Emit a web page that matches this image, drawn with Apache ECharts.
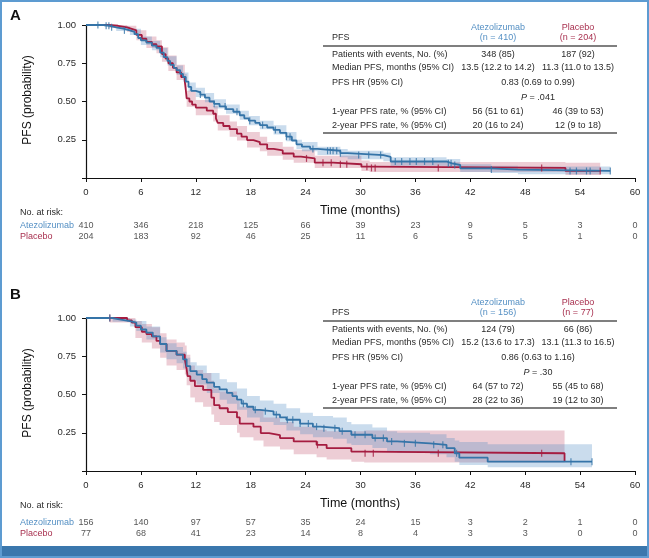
<!DOCTYPE html>
<html>
<head>
<meta charset="utf-8">
<script src="https://cdn.jsdelivr.net/npm/echarts@6/dist/echarts.min.js"></script>
<style>html,body{margin:0;padding:0;background:#fff}#c{width:649px;height:558px}</style>
</head>
<body>
<div id="c"></div>
<script>
// ---------- DATA ----------
const riskTimes = [0, 6, 12, 18, 24, 30, 36, 42, 48, 54, 60];
const riskA_atez = [410, 346, 218, 125, 66, 39, 23, 9, 5, 3, 0];
const riskA_plac = [204, 183, 92, 46, 25, 11, 6, 5, 5, 1, 0];
const riskB_atez = [156, 140, 97, 57, 35, 24, 15, 3, 2, 1, 0];
const riskB_plac = [77, 68, 41, 23, 14, 8, 4, 3, 3, 0, 0];
const yTicks = [0.25, 0.5, 0.75, 1.0];

// KM curves: [time (months), survival]
const kmA_atez = [[0,1],[1.9,0.995],[2.6,0.985],[3.3,0.975],[4.2,0.965],[4.8,0.955],[5.3,0.94],[5.7,0.915],[6.0,0.9],[6.6,0.885],[7.2,0.865],[7.7,0.85],[8.1,0.82],[8.5,0.79],[8.9,0.765],[9.2,0.74],[9.6,0.72],[9.9,0.705],[10.3,0.68],[10.6,0.66],[10.9,0.63],[11.2,0.595],[11.5,0.57],[12.0,0.56],[12.5,0.545],[13.0,0.525],[13.5,0.5],[14.0,0.485],[14.6,0.468],[15.3,0.45],[16.1,0.433],[16.8,0.41],[17.3,0.39],[17.8,0.375],[18.5,0.36],[19.0,0.346],[19.8,0.33],[20.5,0.314],[21.2,0.295],[21.9,0.27],[22.5,0.245],[23.0,0.22],[23.6,0.205],[24.5,0.19],[25.3,0.178],[27.8,0.162],[28.6,0.15],[32.5,0.138],[33.3,0.108],[39.4,0.096],[40.0,0.085],[40.9,0.063],[44.3,0.055],[47.2,0.046],[57.3,0.046]];
const kmA_plac = [[0,1],[2.5,0.995],[3.5,0.985],[4.5,0.975],[5.0,0.965],[5.5,0.935],[6.1,0.91],[6.6,0.89],[7.2,0.875],[7.7,0.86],[8.3,0.81],[8.7,0.78],[9.0,0.75],[9.5,0.72],[9.9,0.69],[10.4,0.66],[10.8,0.63],[10.9,0.58],[11.0,0.52],[11.3,0.5],[11.6,0.48],[12.0,0.46],[13.2,0.44],[13.9,0.42],[14.2,0.39],[14.4,0.36],[15.0,0.34],[15.7,0.32],[16.5,0.29],[17.0,0.27],[17.6,0.248],[18.3,0.235],[19.0,0.22],[19.8,0.19],[20.5,0.18],[21.5,0.16],[22.7,0.14],[23.5,0.128],[25.0,0.1],[27.0,0.09],[30.1,0.074],[31.0,0.066],[52.4,0.046],[56.2,0.046]];
const kmB_atez = [[0,1],[2.9,0.99],[3.8,0.98],[4.8,0.97],[5.5,0.95],[6.0,0.925],[6.6,0.905],[7.3,0.88],[8.1,0.83],[8.8,0.785],[9.9,0.76],[10.6,0.73],[11.0,0.686],[11.4,0.653],[12.1,0.63],[12.7,0.6],[13.2,0.577],[14.0,0.55],[14.6,0.533],[15.4,0.51],[16.0,0.49],[16.5,0.467],[17.0,0.44],[17.6,0.42],[18.3,0.4],[19.0,0.39],[20.5,0.368],[21.2,0.35],[21.9,0.335],[23.4,0.31],[24.8,0.29],[25.6,0.28],[27.7,0.26],[29.0,0.237],[31.3,0.215],[32.9,0.193],[34.0,0.181],[37.6,0.171],[39.4,0.149],[40.3,0.116],[40.8,0.087],[43.9,0.061],[55.3,0.061]];
const kmB_plac = [[0,1],[4.5,0.985],[5.0,0.97],[5.4,0.94],[6.1,0.91],[6.6,0.895],[7.2,0.88],[7.7,0.85],[8.1,0.83],[8.8,0.785],[9.9,0.76],[10.8,0.73],[11.0,0.665],[11.1,0.62],[11.4,0.59],[11.9,0.555],[12.8,0.53],[13.7,0.48],[14.0,0.43],[14.6,0.41],[15.5,0.385],[16.5,0.35],[16.8,0.31],[18.3,0.29],[19.1,0.248],[20.0,0.235],[21.2,0.215],[22.7,0.193],[25.2,0.171],[26.3,0.149],[29.0,0.127],[30.4,0.116],[52.3,0.06]];

// 95% CI bands: [time, lower, upper]
const ciA_atez = [[0,1,1],[2,0.99,1],[3.3,0.96,0.99],[4.8,0.935,0.975],[6.0,0.87,0.925],[7.2,0.835,0.895],[8.1,0.79,0.85],[8.9,0.735,0.795],[9.9,0.675,0.735],[10.6,0.63,0.69],[11.2,0.565,0.625],[12.0,0.53,0.59],[13.0,0.495,0.555],[14.0,0.455,0.515],[15.3,0.42,0.48],[16.8,0.38,0.44],[17.8,0.345,0.405],[19.0,0.318,0.375],[20.5,0.285,0.345],[21.9,0.24,0.3],[23.0,0.19,0.25],[23.6,0.175,0.235],[25.3,0.15,0.205],[27.8,0.135,0.19],[28.6,0.122,0.178],[32.5,0.11,0.165],[33.3,0.08,0.135],[39.4,0.07,0.125],[40.9,0.04,0.09],[44.3,0.033,0.08],[47.2,0.025,0.075],[57.3,0.025,0.075]];
const ciA_plac = [[0,1,1],[2.5,0.98,1],[4.5,0.955,0.995],[5.5,0.9,0.965],[6.6,0.85,0.925],[7.7,0.815,0.9],[8.3,0.76,0.855],[9.0,0.7,0.8],[9.9,0.64,0.74],[10.8,0.575,0.68],[11.0,0.465,0.57],[12.0,0.41,0.51],[13.9,0.37,0.47],[14.4,0.31,0.41],[15.7,0.27,0.37],[16.5,0.245,0.34],[17.6,0.2,0.3],[19.0,0.175,0.27],[19.8,0.145,0.235],[21.5,0.12,0.205],[22.7,0.1,0.185],[25.0,0.065,0.145],[30.1,0.045,0.115],[31.0,0.04,0.105],[52.4,0.02,0.1],[56.2,0.02,0.1]];
const ciB_atez = [[0,1,1],[2.9,0.975,1],[4.8,0.945,0.99],[5.5,0.915,0.98],[6.6,0.86,0.945],[8.1,0.775,0.875],[8.8,0.73,0.835],[9.9,0.705,0.81],[10.6,0.67,0.78],[11.0,0.625,0.74],[11.4,0.59,0.71],[12.1,0.565,0.69],[13.2,0.51,0.64],[14.6,0.465,0.6],[15.4,0.44,0.58],[16.5,0.4,0.54],[17.6,0.35,0.49],[19.0,0.32,0.46],[20.5,0.3,0.44],[21.9,0.265,0.41],[23.4,0.24,0.38],[24.8,0.22,0.36],[27.0,0.21,0.35],[28.5,0.18,0.32],[29.0,0.17,0.305],[31.3,0.15,0.285],[32.9,0.13,0.26],[34.0,0.12,0.25],[37.6,0.11,0.24],[39.4,0.09,0.215],[40.3,0.06,0.2],[40.8,0.04,0.19],[43.9,0.025,0.175],[55.3,0.025,0.175]];
const ciB_plac = [[0,1,1],[2.6,0.97,1],[5.4,0.87,0.98],[6.1,0.84,0.96],[7.2,0.8,0.94],[8.1,0.74,0.9],[8.8,0.69,0.86],[9.9,0.66,0.84],[10.8,0.63,0.82],[11.0,0.56,0.76],[11.4,0.48,0.69],[11.9,0.45,0.66],[12.8,0.42,0.64],[13.7,0.37,0.59],[14.0,0.32,0.54],[14.6,0.3,0.52],[16.5,0.25,0.46],[16.8,0.22,0.42],[18.3,0.2,0.4],[19.4,0.16,0.35],[21.2,0.14,0.32],[22.7,0.11,0.29],[25.2,0.09,0.27],[26.3,0.075,0.26],[29.0,0.06,0.26],[30.4,0.055,0.265],[52.3,0.055,0.265]];

// censor times
const censA_atez = [1.3,2.2,2.5,2.8,4.2,12.5,14.0,15.2,16.5,17.9,19.3,20.7,21.9,22.3,24.8,26.4,26.7,27.0,27.4,27.8,29.8,30.9,32.2,33.8,34.5,35.4,36.1,37.0,37.9,39.6,39.9,40.3,44.3,52.9,53.6,54.7,55.1,57.3];
const censA_plac = [24.1,25.9,26.8,27.8,28.5,30.7,31.2,31.6,38.5,49.8,56.2];
const censB_atez = [2.6,17.2,18.5,19.6,20.8,22.0,22.6,23.4,24.3,25.2,26.0,27.2,28.0,29.4,30.5,31.6,32.5,33.4,34.8,36.0,38.0,39.0,40.5,53.0,55.3];
const censB_plac = [2.6,25.3,30.5,31.4,38.5,49.8];

// tables
const tableA_n = ['(n = 410)', '(n = 204)'];
const tableA_rows = [
  ['Patients with events, No. (%)', '348 (85)', '187 (92)'],
  ['Median PFS, months (95% CI)', '13.5 (12.2 to 14.2)', '11.3 (11.0 to 13.5)'],
  ['PFS HR (95% CI)', '0.83 (0.69 to 0.99)'],
  ['', '{i|P} = .041'],
  ['1-year PFS rate, % (95% CI)', '56 (51 to 61)', '46 (39 to 53)'],
  ['2-year PFS rate, % (95% CI)', '20 (16 to 24)', '12 (9 to 18)']
];
const tableB_n = ['(n = 156)', '(n = 77)'];
const tableB_rows = [
  ['Patients with events, No. (%)', '124 (79)', '66 (86)'],
  ['Median PFS, months (95% CI)', '15.2 (13.6 to 17.3)', '13.1 (11.3 to 16.5)'],
  ['PFS HR (95% CI)', '0.86 (0.63 to 1.16)'],
  ['', '{i|P} = .30'],
  ['1-year PFS rate, % (95% CI)', '64 (57 to 72)', '55 (45 to 68)'],
  ['2-year PFS rate, % (95% CI)', '28 (22 to 36)', '19 (12 to 30)']
];
const groups = ['Atezolizumab', 'Placebo'];

// ---------- STYLE ----------
const FONT = "'Liberation Sans', Arial, sans-serif";
const BLUE = '#3574a8', RED = '#a51c40';
const BLUE_T = '#5590c4', RED_T = '#a8304f';
const BLUE_BAND = 'rgba(80,140,195,0.30)', RED_BAND = 'rgba(190,70,100,0.27)';
const TXT = '#2a2a2a';

const chart = echarts.init(document.getElementById('c'), null, {renderer: 'canvas', width: 649, height: 558});

function stepAt(curve, t) {
  let v = curve[0][1];
  for (const p of curve) { if (p[0] <= t + 1e-9) v = p[1]; else break; }
  return v;
}
function bandRender(ci, color) {
  return function (params, api) {
    if (params.dataIndex !== 0) return null;
    const up = [], lo = [];
    for (let i = 0; i < ci.length - 1; i++) {
      up.push(api.coord([ci[i][0], ci[i][2]]), api.coord([ci[i + 1][0], ci[i][2]]));
      lo.push(api.coord([ci[i][0], ci[i][1]]), api.coord([ci[i + 1][0], ci[i][1]]));
    }
    const pts = up.concat(lo.reverse());
    return {type: 'polygon', shape: {points: pts}, style: {fill: color, stroke: null}, silent: true};
  };
}
function plotGrid(top) { return {left: 86, width: 549, top: top, height: 153, containLabel: false}; }
function riskGrid(top) { return {left: 86, width: 549, top: top, height: 22}; }
function xPlot(gi) {
  return {gridIndex: gi, type: 'value', min: 0, max: 60, interval: 6,
    axisLine: {show: true, lineStyle: {color: '#111', width: 1.2}},
    axisTick: {show: true, length: 4, lineStyle: {color: '#111'}},
    splitLine: {show: false},
    axisLabel: {fontSize: 9.5, color: TXT, margin: 9, fontFamily: FONT}};
}
function yPlot(gi) {
  return {gridIndex: gi, type: 'value', min: 0, max: 1, interval: 0.25,
    axisLine: {show: true, onZero: false, lineStyle: {color: '#111', width: 1.2}},
    axisTick: {show: true, length: 4, lineStyle: {color: '#111'}},
    splitLine: {show: false},
    axisLabel: {fontSize: 9.5, color: TXT, margin: 10, fontFamily: FONT,
      formatter: v => (yTicks.indexOf(v) >= 0 ? v.toFixed(2) : '')}};
}
function xRisk(gi) { return {gridIndex: gi, type: 'value', min: 0, max: 60, show: false}; }
function yRisk(gi) { return {gridIndex: gi, type: 'category', data: groups, inverse: true, show: false}; }

function kmSeries(ax, curve, color, z) {
  return {type: 'line', xAxisIndex: ax, yAxisIndex: ax, data: curve, step: 'end', symbol: 'none',
    lineStyle: {color: color, width: 1.8}, z: z, silent: true, animation: false};
}
function censSeries(ax, curve, times, color, z) {
  return {type: 'scatter', xAxisIndex: ax, yAxisIndex: ax, data: times.map(t => [t, stepAt(curve, t)]),
    symbol: 'rect', symbolSize: [1.2, 7], itemStyle: {color: color}, z: z, silent: true, animation: false};
}
function bandSeries(ax, ci, color, z) {
  return {type: 'custom', xAxisIndex: ax, yAxisIndex: ax, data: [[0, 1]], renderItem: bandRender(ci, color),
    z: z, silent: true, animation: false, clip: false};
}
function riskSeries(ax, vals, name) {
  return {type: 'scatter', xAxisIndex: ax, yAxisIndex: ax, symbolSize: 1,
    data: riskTimes.map((t, i) => [t, name, vals[i]]),
    itemStyle: {color: 'transparent'},
    label: {show: true, position: 'inside', formatter: p => String(p.data[2]), fontSize: 9, color: TXT, fontFamily: FONT},
    silent: true, animation: false};
}

function tableGraphics(lineY, nLabels, rows) {
  const g = [];
  const L = 323, R = 617, cA = 498, cP = 578, cM = 538, lx = 332;
  const ts = (x, y, text, fill, align) => ({type: 'text', x: x, y: y, silent: true,
    style: {text: text, fill: fill, fontSize: 9, fontFamily: FONT, align: align || 'center', verticalAlign: 'middle',
      rich: {i: {fontStyle: 'italic', fontSize: 9, fontFamily: FONT, fill: fill}}}});
  g.push(ts(cA, lineY - 18, 'Atezolizumab', BLUE_T));
  g.push(ts(cA, lineY - 8.5, nLabels[0], BLUE_T));
  g.push(ts(cP, lineY - 18, 'Placebo', RED_T));
  g.push(ts(cP, lineY - 8.5, nLabels[1], RED_T));
  g.push(ts(lx, lineY - 8.5, 'PFS', TXT, 'left'));
  g.push({type: 'line', silent: true, shape: {x1: L, y1: lineY, x2: R, y2: lineY}, style: {stroke: '#555', lineWidth: 1.6}});
  const offs = [8.5, 22, 37, 51.5, 66, 80];
  rows.forEach((r, i) => {
    const y = lineY + offs[i];
    if (r[0]) g.push(ts(lx, y, r[0], TXT, 'left'));
    if (r.length === 3) { g.push(ts(cA, y, r[1], TXT)); g.push(ts(cP, y, r[2], TXT)); }
    else g.push(ts(cM, y, r[1], TXT));
  });
  g.push({type: 'line', silent: true, shape: {x1: L, y1: lineY + 87, x2: R, y2: lineY + 87}, style: {stroke: '#555', lineWidth: 1.6}});
  return g;
}
function panelGraphics(letter, letterY, axisY, riskTop) {
  const g = [];
  g.push({type: 'text', x: 10, y: letterY, silent: true, style: {text: letter, fontSize: 15, fontWeight: 'bold', fontFamily: FONT, fill: '#111', verticalAlign: 'middle'}});
  g.push({type: 'text', x: 28, y: axisY - 78, rotation: Math.PI / 2, silent: true,
    style: {text: 'PFS (probability)', fontSize: 12, fontFamily: FONT, fill: '#111', align: 'center', verticalAlign: 'middle'}});
  g.push({type: 'text', x: 360, y: axisY + 33, silent: true,
    style: {text: 'Time (months)', fontSize: 12.5, fontFamily: FONT, fill: '#111', align: 'center', verticalAlign: 'middle'}});
  g.push({type: 'text', x: 20, y: axisY + 35, silent: true, style: {text: 'No. at risk:', fontSize: 9, fontFamily: FONT, fill: TXT, verticalAlign: 'middle'}});
  g.push({type: 'text', x: 20, y: riskTop + 5.5, silent: true, style: {text: 'Atezolizumab', fontSize: 9, fontFamily: FONT, fill: BLUE_T, verticalAlign: 'middle'}});
  g.push({type: 'text', x: 20, y: riskTop + 16.5, silent: true, style: {text: 'Placebo', fontSize: 9, fontFamily: FONT, fill: RED_T, verticalAlign: 'middle'}});
  return g;
}

const graphics = [].concat(
  panelGraphics('A', 16, 178, 220.5),
  panelGraphics('B', 295, 471, 517.5),
  tableGraphics(46, tableA_n, tableA_rows),
  tableGraphics(321, tableB_n, tableB_rows),
  [
    {type: 'rect', silent: true, shape: {x: 0, y: 546, width: 649, height: 12}, style: {fill: '#3a77ad'}},
    {type: 'rect', silent: true, shape: {x: 1, y: 1, width: 647, height: 556}, style: {fill: null, stroke: '#5d9bd1', lineWidth: 2}}
  ]
);

chart.setOption({
  animation: false,
  backgroundColor: '#fff',
  grid: [plotGrid(25), riskGrid(220.5), plotGrid(318), riskGrid(517.5)],
  xAxis: [xPlot(0), xRisk(1), xPlot(2), xRisk(3)],
  yAxis: [yPlot(0), yRisk(1), yPlot(2), yRisk(3)],
  series: [
    bandSeries(0, ciA_plac, RED_BAND, 1),
    bandSeries(0, ciA_atez, BLUE_BAND, 2),
    kmSeries(0, kmA_plac, RED, 3),
    kmSeries(0, kmA_atez, BLUE, 4),
    censSeries(0, kmA_plac, censA_plac, RED, 5),
    censSeries(0, kmA_atez, censA_atez, BLUE, 6),
    riskSeries(1, riskA_atez, 'Atezolizumab'),
    riskSeries(1, riskA_plac, 'Placebo'),
    bandSeries(2, ciB_plac, RED_BAND, 1),
    bandSeries(2, ciB_atez, BLUE_BAND, 2),
    kmSeries(2, kmB_plac, RED, 3),
    kmSeries(2, kmB_atez, BLUE, 4),
    censSeries(2, kmB_plac, censB_plac, RED, 5),
    censSeries(2, kmB_atez, censB_atez, BLUE, 6),
    riskSeries(3, riskB_atez, 'Atezolizumab'),
    riskSeries(3, riskB_plac, 'Placebo')
  ],
  graphic: graphics
});
</script>
</body>
</html>
